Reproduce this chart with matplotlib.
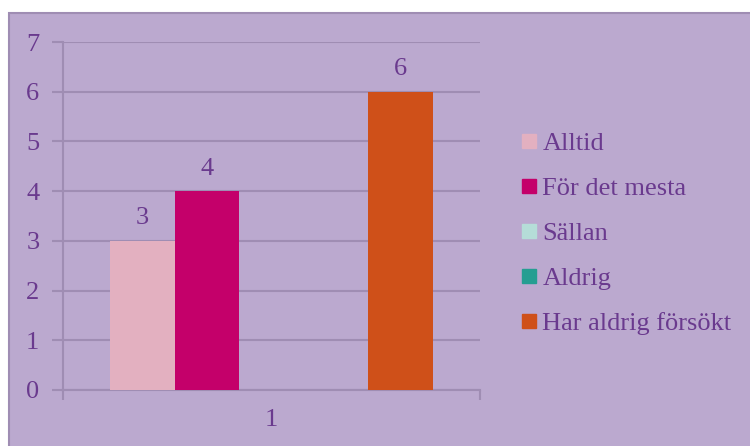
import matplotlib.pyplot as plt
from matplotlib.patches import Rectangle
from matplotlib.lines import Line2D

plt.rcParams["font.family"] = ["Liberation Serif", "DejaVu Serif"]

categories = ["1"]
series = ["Alltid", "För det mesta", "Sällan", "Aldrig", "Har aldrig försökt"]
values = [3, 4, 0, 0, 6]
colors = ["#E3B0C0", "#C4006A", "#B5DDD8", "#259E92", "#CF5019"]

bg = "#BBA9CF"
grid_c = "#9F8DB3"
text_c = "#6A3A8E"
fs = 19

fig = plt.figure(figsize=(7.5, 4.46), dpi=100)
fig.patch.set_facecolor("white")
# chart area panel with a thin border
fig.patches.append(Rectangle((0.012, -0.01), 1.0, 0.981, transform=fig.transFigure,
                             facecolor=bg, edgecolor=grid_c, lw=1.5, zorder=-1))

ax = fig.add_axes([0.084, 0.1256, 0.556, 0.7802])
ax.set_zorder(2)
ax.set_facecolor("none")

w = 0.1547
n = len(series)
for i, (name, v, c) in enumerate(zip(series, values, colors)):
    x = 1 + (i - (n - 1) / 2) * w
    ax.bar(x, v, width=w, color=c, zorder=3, label=name)
    if v:
        ax.text(x, v + 0.23, str(v), ha="center", va="bottom", fontsize=fs, color=text_c)

ax.set_xlim(0.5, 1.5)
ax.set_ylim(0, 7)
ax.set_yticks(range(8))
ax.yaxis.grid(True, color=grid_c, lw=1.5, zorder=1)
ax.set_axisbelow(True)
ax.tick_params(axis="y", length=8, width=1.5, color=grid_c, labelcolor=text_c,
               labelsize=fs, pad=9)
ax.set_xticks([1])
ax.set_xticklabels(categories)
ax.set_xticks([0.5, 1.5], minor=True)
ax.tick_params(axis="x", which="major", length=0, labelcolor=text_c, labelsize=fs, pad=14)
ax.tick_params(axis="x", which="minor", length=7, width=1.5, color=grid_c)
for s in ["top", "right"]:
    ax.spines[s].set_visible(False)
for s in ["left", "bottom"]:
    ax.spines[s].set_color(grid_c)
    ax.spines[s].set_linewidth(1.5)

handles = [Line2D([], [], marker="s", ls="none", markersize=10, color=c) for c in colors]
leg = fig.legend(handles, series, loc="center left", bbox_to_anchor=(0.695, 0.477),
                 frameon=False, fontsize=fs, handlelength=0.6, handletextpad=0.2,
                 labelspacing=0.82, borderpad=0, borderaxespad=0)
leg.set_zorder(3)
for t in leg.get_texts():
    t.set_color(text_c)

fig.savefig("out.png", dpi=100)
